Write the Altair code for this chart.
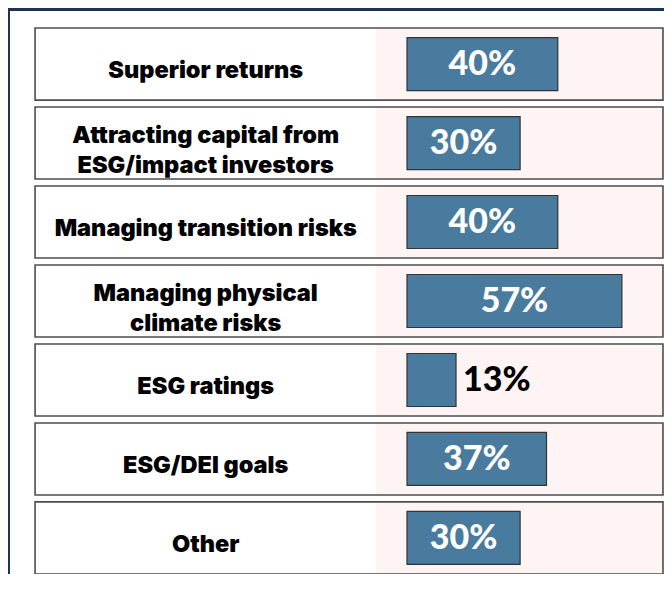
import altair as alt
import pandas as pd

categories = [
    "Superior returns",
    "Attracting capital from\nESG/impact investors",
    "Managing transition risks",
    "Managing physical\nclimate risks",
    "ESG ratings",
    "ESG/DEI goals",
    "Other",
]
values = [40, 30, 40, 57, 13, 37, 30]
pct_labels = [f"{v}%" for v in values]

df = pd.DataFrame({"cat": categories, "value": values, "pct": pct_labels})

W, H = 656, 566
NAVY = "#1c3353"
BAR = "#497b9e"
PINK = "#fff4f4"

xscale = alt.Scale(domain=[-105.84, 68.17], nice=False, zero=False)
yscale = alt.Scale(domain=categories, range=[20, 566], paddingInner=0.0875, paddingOuter=0)
Y = alt.Y("cat:N", scale=yscale, axis=None, sort=categories)

base = alt.Chart(df)

box_fill = base.mark_rect(fill="white", strokeWidth=0).encode(
    x=alt.X(datum=-98.66, type="quantitative", scale=xscale, axis=None),
    x2=alt.X2(datum=67.9),
    y=Y,
)
pink = base.mark_rect(fill=PINK, strokeWidth=0).encode(
    x=alt.X(datum=-8.22, type="quantitative", scale=xscale, axis=None),
    x2=alt.X2(datum=67.9),
    y=Y,
)
box_line = base.mark_rect(fill=None, fillOpacity=0, stroke="#4d4d4d", strokeWidth=1.6).encode(
    x=alt.X(datum=-98.66, type="quantitative", scale=xscale, axis=None),
    x2=alt.X2(datum=67.9),
    y=Y,
)
bars = base.mark_bar(size=53, fill=BAR, stroke="#333333", strokeWidth=1.2).encode(
    x=alt.X("value:Q", scale=xscale, axis=None),
    x2=alt.X2(datum=0),
    y=Y,
)
pct_in = base.transform_filter("datum.value >= 20").transform_calculate(
    mid="datum.value / 2"
).mark_text(
    color="white", font="Lato", fontWeight=900, fontSize=34, baseline="middle",
    align="center", dy=1
).encode(
    x=alt.X("mid:Q", scale=xscale, axis=None), y=Y, text="pct:N"
)
pct_out = base.transform_filter("datum.value < 20").mark_text(
    color="black", font="Lato", fontWeight=900, fontSize=34, baseline="middle",
    align="left", dx=7, dy=1
).encode(
    x=alt.X("value:Q", scale=xscale, axis=None), y=Y, text="pct:N"
)
label_style = dict(
    color="black", font="Inter", fontWeight=900, fontSize=23.5,
    lineBreak="\n", lineHeight=30, baseline="middle", align="center",
)
labels_one = base.transform_filter("indexof(datum.cat, '\\n') < 0").mark_text(
    dy=7, **label_style
).encode(
    x=alt.X(datum=-53.4, type="quantitative", scale=xscale, axis=None),
    y=Y,
    text="cat:N",
)
labels_two = base.transform_filter("indexof(datum.cat, '\\n') >= 0").mark_text(
    dy=-7, **label_style
).encode(
    x=alt.X(datum=-53.4, type="quantitative", scale=xscale, axis=None),
    y=Y,
    text="cat:N",
)

deco_df = pd.DataFrame({"k": [0]})
band = alt.Chart(deco_df).mark_rect(fill=NAVY).encode(
    x=alt.value(0), x2=alt.value(W), y=alt.value(0), y2=alt.value(3)
)
left_line = alt.Chart(deco_df).mark_rule(stroke=NAVY, strokeWidth=2).encode(
    x=alt.value(1), y=alt.value(0), y2=alt.value(H)
)

chart = alt.layer(
    box_fill, pink, box_line, bars, pct_in, pct_out, labels_one, labels_two, band, left_line
).properties(
    width=W, height=H, padding=0,
    autosize=alt.AutoSizeParams(type="none"),
    background="white",
).configure_view(stroke=None)

chart.save("out.html", embed_options={"renderer": "svg", "actions": False})
